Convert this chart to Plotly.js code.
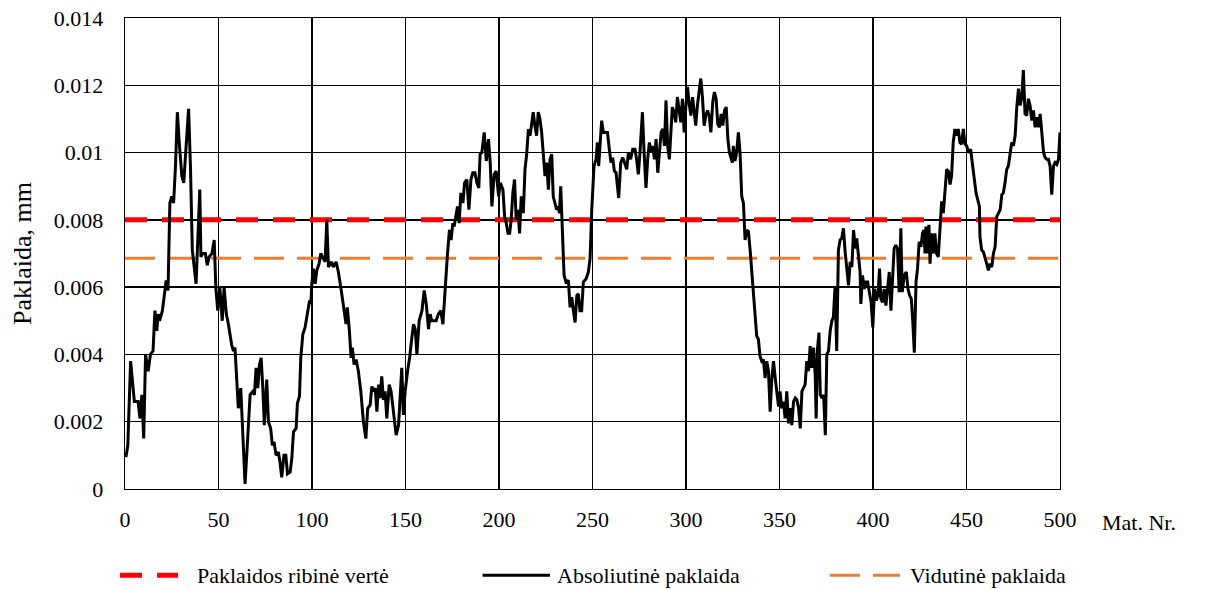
<!DOCTYPE html>
<html><head><meta charset="utf-8">
<script src="https://cdn.plot.ly/plotly-3.0.1.min.js"></script>
<style>
html,body{margin:0;padding:0;background:#fff}
#chart{width:1206px;height:590px}
</style>
</head><body><div id="chart"></div>
<script>
const matNr = [
0.5,1.5,3,5,7,8,9,10,11,12.4,13.6,15,16,17,17.7,18.5,20,21,22,23,24,25,26,27,28,29,30.4,31.4,32.7,34,35,36,38,39,40,40.6,41.5,43,44,45,46.5,47.7,48.6,49.6,50.7,52,53,54.2,
55.3,57,58,58.8,59.7,60.6,61.9,63,64.2,65.4,66.9,68.3,69.2,70.1,71,71.9,72.8,73.7,74.5,75.8,76.7,77.9,78.8,79.7,80.8,82,82.9,83.8,85,86,86.9,88.3,89.2,90.1,91.5,92.2,93.3,94,95.1,96.3,97.6,98.7,99.4,99.9,100.8,101.7,102.6,103.8,104.7,105.8,107,107.9,108.8,
110.5,111.4,112.9,114.1,115.4,116.4,117.2,118.2,118.9,120,120.9,121.6,122.5,123.6,124.8,126.1,127.5,128.8,129.8,131.1,132,132.9,133.8,134.7,135.6,136.4,137.3,138.2,139.1,140,141.3,142.3,143.6,145,146.3,147.2,148,148.9,149.8,151.1,152.2,153.4,154.3,155.2,156.1,157.3,158.8,160,161.1,162.3,163.2,
164,165.3,166.4,167.6,168.9,170,171.2,172.4,173.5,174.4,175.3,176,176.9,177.8,178.7,179.6,180.7,181.6,182.8,183.9,185,186,187.1,188.2,189.2,189.9,190.8,192.1,193.2,194.4,195.3,196.2,197.4,198.5,199.8,200.7,202.1,203,203.9,204.8,205.7,206.5,207.4,208.3,209.2,210.1,211,211.9,213,213.9,214.8,215.7,216.6,217.4,218.3,219.2,220.1,221,221.9,222.8,223.7,224.6,225.5,226.4,227.3,228.2,229,229.9,230.8,231.7,232.3,233,233.9,234.8,235.8,237.1,238,238.9,239.8,240.7,241.6,242.4,243.3,244.2,245.1,246.6,247.8,248.7,249.6,
250.8,251.9,252.6,253.3,254,254.9,255.8,256.7,258,259,259.9,260.8,261.7,262.6,263.3,264,265.1,266.2,267.4,268.3,269.2,270.4,271.5,272.7,273.6,274.5,275.4,276.7,277.6,278.6,279.5,280.4,281.3,282.2,283.1,284,284.9,285.8,286.7,287.6,288.5,289.3,290.2,291.1,291.8,292.7,293.6,294.5,295.4,296.3,297.2,298.1,299,299.9,300.8,301.7,302.6,303.5,304.3,305.2,306.1,307,307.9,308.8,309.7,310.6,311.5,312.4,313.3,314.3,315.2,316.1,317,317.9,318.8,319.7,320.6,321.5,
322.4,323.2,324,324.8,325.3,326.2,327.1,328,328.9,329.8,330.7,331.6,332.5,333.4,334.3,335.2,336,336.9,337.8,338.7,339.6,340.5,341.4,342.3,343.2,344.1,345,345.9,346.8,347.7,348.6,349.5,350.3,351.2,352.1,353,353.9,354.8,355.7,356.6,357.5,358.4,359.3,360.2,361.1,362,362.8,363.7,364.6,365.5,366.4,367.3,368.2,369.1,369.6,370.3,371.1,371.8,372.7,373.6,374.5,375.3,376.2,377.1,378,378.8,379.7,380.6,381.5,382.4,383.3,384.2,385.1,386,386.9,387.8,388.7,389.6,390.5,391.3,392.2,393.1,393.5,394.4,395.3,396.2,397.1,398.1,399,399.9,400.8,401.7,402.6,403.5,404.2,405.1,406,406.9,407.8,408.7,409.6,410.5,411.3,412.2,413.1,414,414.9,415.6,416.7,417.8,418.7,419.6,420.5,421.3,422.1,423,423.8,424.7,
425.6,426.5,427.2,427.8,428.3,429,429.9,430.5,431.3,432.2,433.1,434,434.9,435.8,436.7,437.6,438.5,439.4,440.3,441.2,442,442.9,443.8,444.7,445.6,446.5,447.4,448.3,449.2,450.1,451,452.2,453.3,454.2,455.1,456,456.9,457.2,458.1,459,459.9,460.8,461.7,462.6,463.5,464.4,465.3,466.2,467.1,468,468.9,469.7,470.6,471.5,472.4,473.3,474.2,475.1,476,476.9,477.8,478.7,479.6,480.4,481.3,482.2,483.1,484,484.9,485.8,486.7,487.6,488.5,489.4,490.3,491.2,492.1,492.9,493.8,494.7,495.6,496.5,497.4,498.3,499.2,500
];
const absError = [
.00095,.0013,.0038,.0026,.0026,.0021,.0028,.0015,.0040,.0035,.0040,.0041,.0053,.0047,.0052,.0050,.0053,.0058,.0062,.0059,.0085,.0087,.0085,.0096,.0112,.0103,.0093,.0091,.0101,.0113,.0096,.0071,.0061,.0077,.0089,.0069,.0070,.0070,.00665,.0069,.0070,.0074,.00596,.0053,.0060,.0050,.0060,.0052,
.0049,.0043,.0041,.0042,.0031,.0024,.0030,.0014,.00015,.0013,.0028,.0029,.0028,.0036,.0030,.0037,.0039,.0030,.0019,.00325,.0020,.0018,.0013,.0014,.0010,.0011,.0008,.00035,.0010,.0010,.00045,.0005,.0009,.0017,.0018,.00255,.00275,.0039,.0046,.0048,.0052,.0056,.0055,.0061,.00655,.0061,.0065,.0067,.0070,.0069,.00675,.0080,.0066,
.00675,.0066,.00675,.00645,.0060,.0055,.0053,.0049,.0054,.0047,.0039,.0042,.0037,.00385,.0035,.0029,.0020,.0015,.0024,.0025,.00305,.0029,.0030,.0023,.0031,.0027,.00335,.00265,.0029,.0021,.0031,.0029,.0022,.0016,.0019,.0028,.0036,.0022,.0029,.0035,.0039,.0045,.0049,.00475,.0040,.0050,.0053,.0059,.0055,.00475,.0052,
.0050,.0050,.0050,.0052,.0053,.0049,.0060,.00695,.0077,.0074,.0079,.0078,.0081,.0084,.0079,.0088,.0085,.0091,.0092,.0083,.0092,.0094,.0094,.0091,.00895,.00995,.0100,.0106,.00975,.0104,.0097,.0084,.00935,.00945,.0087,.0091,.0089,.0081,.0079,.0076,.0076,.0080,.0088,.0092,.0080,.0083,.0076,.0087,.0082,.0095,.00995,.0107,.0105,.0109,.0112,.0108,.0105,.0112,.0110,.0106,.0098,.0093,.0097,.0089,.0098,.00995,.0087,.0085,.0083,.0084,.0082,.0090,.0076,.00635,.00615,.0062,.0054,.0057,.0053,.00495,.00575,.0058,.0053,.0053,.00615,.00625,.00645,.00685,.0083,
.0096,.0098,.0103,.0096,.01035,.01095,.0106,.0106,.0106,.0101,.0097,.00985,.00945,.0094,.0091,.00865,.0097,.00985,.00965,.0095,.0100,.0098,.0101,.0101,.0098,.00935,.0100,.0112,.0100,.00895,.0098,.0103,.0100,.0102,.0098,.0104,.0094,.0099,.0106,.0107,.0102,.01155,.0102,.0098,.0107,.01135,.0112,.0109,.01165,.0113,.0109,.0116,.0106,.01135,.01195,.01145,.0111,.01165,.0113,.0108,.0114,.01185,.0122,.01165,.0108,.0111,.01125,.0111,.0106,.0115,.0118,.0116,.01085,.01075,.01115,.0108,.01125,.01135,
.0104,.0100,.0098,.0097,.0102,.00975,.0100,.0106,.0100,.0087,.0085,.0074,.0077,.00765,.0071,.0064,.00585,.00505,.00455,.00445,.00395,.0038,.00385,.0033,.0038,.0035,.0023,.0033,.0038,.0033,.0029,.00245,.0029,.0024,.0026,.0021,.0029,.00195,.0024,.0019,.0026,.0027,.00265,.0024,.0018,.0029,.0030,.0031,.0038,.0035,.00425,.0036,.0042,.0034,.0021,.00415,.00465,.0028,.0027,.0028,.0016,.0040,.0041,.0047,.0050,.0051,.0060,.0041,.0071,.0074,.00745,.00775,.00705,.00645,.00605,.00675,.0066,.0077,.00715,.00745,.00685,.00645,.0055,.00635,.00595,.00615,.00615,.00575,.00555,.0048,.00595,.0056,.00575,.00655,.00565,.00555,.00595,.00545,.00595,.00645,.0053,.00655,.00715,.00725,.00715,.00585,.00775,.00585,.00635,.00645,.00595,.00575,.00565,.00495,.00405,.00615,.00655,.00735,
.0072,.0076,.0077,.0070,.0078,.0070,.00785,.0067,.0076,.0070,.0076,.0070,.0069,.0077,.00855,.0082,.0090,.0095,.00945,.00905,.0093,.0103,.0107,.0105,.0107,.0103,.01025,.0107,.01025,.0102,.0100,.0101,.0096,.0091,.0088,.0086,.0084,.0075,.0071,.00705,.0069,.0067,.0065,.0067,.0066,.0070,.0072,.0081,.0082,.0083,.00875,.0088,.0091,.0095,.0096,.0100,.0103,.0102,.0105,.01135,.0119,.0114,.01165,.01245,.01115,.0111,.0116,.0114,.01095,.01125,.01075,.01105,.01075,.01115,.01045,.0100,.00985,.0098,.0098,.0096,.00875,.0096,.0097,.00965,.0098,.0106
];
if (matNr.length !== absError.length) throw new Error('length mismatch ' + matNr.length + ' vs ' + absError.length);

const lineRange = [0, 500];
const limitValue = [0.008, 0.008];      // Paklaidos ribinė vertė
const meanValue = [0.00686, 0.00686];   // Vidutinė paklaida

const yTickVals = [0, 0.002, 0.004, 0.006, 0.008, 0.01, 0.012, 0.014];
const yTickText = ['0', '0.002', '0.004', '0.006', '0.008', '0.01', '0.012', '0.014'];
const xTickVals = [0, 50, 100, 150, 200, 250, 300, 350, 400, 450, 500];

const seriesNames = ['Paklaidos ribinė vertė', 'Absoliutinė paklaida', 'Vidutinė paklaida'];

const RED = '#FF0000', BLACK = '#000000', ORANGE = '#ED7D31';
const redLine = {color: RED, width: 5, dash: '22px,15px'};
const blackLine = {color: BLACK, width: 3};
const orangeLine = {color: ORANGE, width: 3, dash: '30px,13px'};

const traces = [
  {x: lineRange, y: limitValue, mode: 'lines', name: seriesNames[0], line: redLine},
  {x: lineRange, y: meanValue, mode: 'lines', name: seriesNames[2], line: orangeLine},
  {x: matNr, y: absError, mode: 'lines', name: seriesNames[1], line: blackLine}
];

// Legend drawn below the plot (sample line + label for each series)
const legY = -0.183;
const legendItems = [
  {x0: -0.0053, x1: 0.0567, tx: 0.0749, line: redLine, text: seriesNames[0]},
  {x0: 0.3824, x1: 0.4545, tx: 0.4599, line: blackLine, text: seriesNames[1]},
  {x0: 0.754, x1: 0.8289, tx: 0.8374, line: orangeLine, text: seriesNames[2]}
];

const layout = {
  width: 1206, height: 590,
  margin: {l: 125, r: 146, t: 18, b: 101, autoexpand: false},
  paper_bgcolor: '#fff', plot_bgcolor: '#fff',
  font: {family: 'Liberation Serif', size: 22, color: '#000'},
  showlegend: false,
  xaxis: {range: [0, 500], tickvals: xTickVals, showgrid: true, gridcolor: '#000', gridwidth: 1.3,
          showline: true, linecolor: '#000', linewidth: 1.3, mirror: true, zeroline: false,
          ticks: 'outside', ticklen: 10, tickcolor: 'rgba(0,0,0,0)'},
  yaxis: {range: [0, 0.014], tickvals: yTickVals, ticktext: yTickText, showgrid: true, gridcolor: '#000', gridwidth: 1.3,
          showline: true, linecolor: '#000', linewidth: 1.3, mirror: true, zeroline: false,
          ticks: 'outside', ticklen: 16, tickcolor: 'rgba(0,0,0,0)',
          title: {text: 'Paklaida, mm', standoff: 14}},
  shapes: legendItems.map(it => ({type: 'line', xref: 'paper', yref: 'paper', x0: it.x0, x1: it.x1, y0: legY, y1: legY,
                                  line: it.line})),
  annotations: [{text: 'Mat. Nr.', xref: 'paper', yref: 'paper', x: 1, y: 0, xanchor: 'left', yanchor: 'middle',
                 xshift: 40, yshift: -33, showarrow: false}].concat(
    legendItems.map(it => ({text: it.text, xref: 'paper', yref: 'paper', x: it.tx, y: legY,
                            xanchor: 'left', yanchor: 'middle', showarrow: false})))
};

Plotly.newPlot('chart', traces, layout, {displayModeBar: false, staticPlot: true});
</script>
</body></html>
